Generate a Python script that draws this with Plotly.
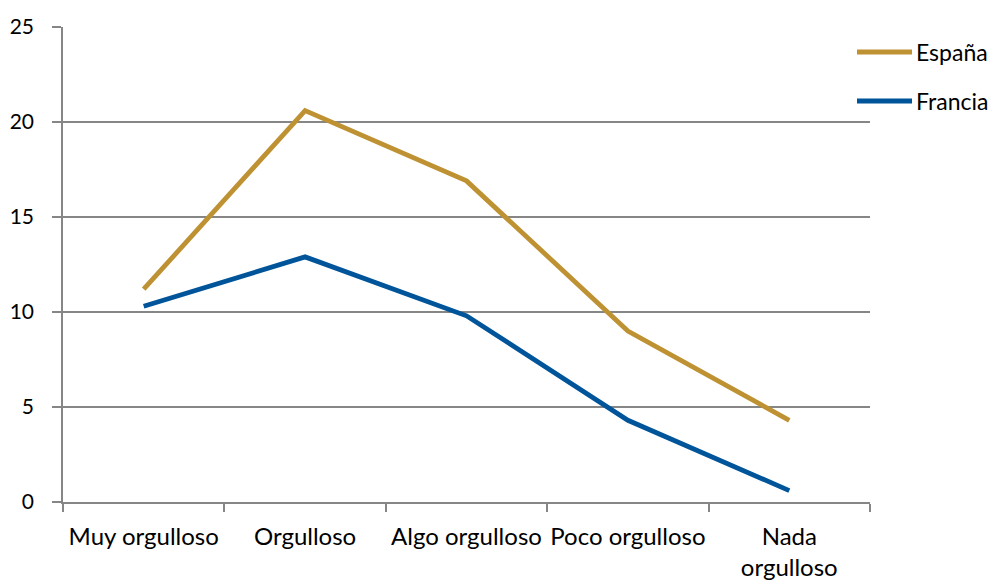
import plotly.graph_objects as go

categories = ["Muy orgulloso", "Orgulloso", "Algo orgulloso", "Poco orgulloso", "Nada<br>orgulloso"]
espana = [11.2, 20.6, 16.9, 9.0, 4.3]
francia = [10.3, 12.9, 9.8, 4.3, 0.6]
y_ticks = [0, 5, 10, 15, 20, 25]
series_names = ["España", "Francia"]

GOLD = "#BE9232"
BLUE = "#00559A"
GRID = "#868686"
FONT = "Lato"

# plot area in pixels
L, R, T, B = 63, 126, 27, 80
W, H = 996, 582
PW, PH = W - L - R, H - T - B

fig = go.Figure()
for name, vals, col in zip(series_names, [espana, francia], [GOLD, BLUE]):
    fig.add_trace(go.Scatter(x=categories, y=vals, name=name, mode="lines",
                             line=dict(color=col, width=4.8), showlegend=False))

# legend drawn to the right of the plot area: long line sample + label
legend_rows_px = [52, 101]
for name, col, ypx in zip(series_names, [GOLD, BLUE], legend_rows_px):
    yp = (H - B - ypx) / PH
    fig.add_shape(type="line", xref="paper", yref="paper",
                  x0=(857 - L) / PW, x1=(912 - L) / PW, y0=yp, y1=yp,
                  line=dict(color=col, width=4.8))
    fig.add_annotation(xref="paper", yref="paper", x=(914 - L) / PW, y=yp,
                       text=name, showarrow=False, xanchor="left", yanchor="middle",
                       font=dict(size=23, color="black", family=FONT))

fig.update_layout(
    width=W, height=H,
    margin=dict(l=L, r=R, t=T, b=B),
    plot_bgcolor="white", paper_bgcolor="white",
    font=dict(family=FONT, size=23, color="black"),
    showlegend=False,
)
fig.update_xaxes(
    type="category", range=[-0.5, 4.5], tickson="boundaries",
    ticks="outside", ticklen=8, tickwidth=1.6, tickcolor=GRID,
    showline=True, linecolor=GRID, linewidth=1.6, showgrid=False,
    tickfont=dict(size=24), ticklabelstandoff=12, tickangle=0, automargin=False,
)
fig.update_yaxes(
    range=[0, 25], tickvals=y_ticks, ticks="outside", ticklen=9,
    tickwidth=1.6, tickcolor=GRID, showline=True, linecolor=GRID, linewidth=1.6,
    showgrid=True, gridcolor=GRID, gridwidth=1.6, zeroline=False,
    tickfont=dict(size=21), ticklabelstandoff=14, automargin=False,
)

fig.write_html("out.html")
